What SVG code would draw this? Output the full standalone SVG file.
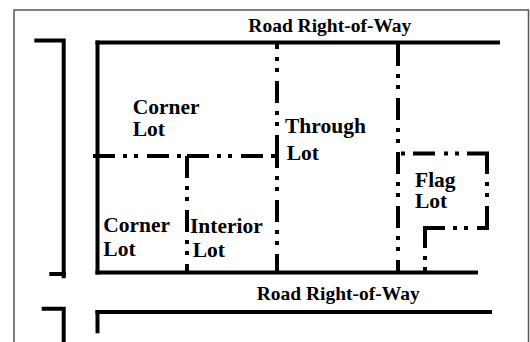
<svg xmlns="http://www.w3.org/2000/svg" width="530" height="342" viewBox="0 0 530 342">
<style>
.solid{stroke:#000;stroke-width:4;fill:none;stroke-linecap:butt}
.dd{stroke:#000;stroke-width:4;fill:none;stroke-linecap:butt;stroke-dasharray:22 8 4 7 4 9}
.lbl{font-family:"Liberation Serif","Times New Roman",serif;font-weight:bold;font-size:21.5px;fill:#000}
.road{font-family:"Liberation Serif","Times New Roman",serif;font-weight:bold;font-size:19.5px;fill:#000}
</style>
<rect x="0" y="0" width="530" height="342" fill="#fff"/>
<path d="M14 343 V10 H528.5 V343" fill="none" stroke="#555" stroke-width="1.5"/>
<g id="streets">
  <path class="solid" d="M34.3 40.5 H63.7 V278.3"/>
  <path class="solid" d="M49.3 274 H65.7"/>
  <path class="solid" d="M41.7 308.7 H63.7 V343"/>
  <path class="solid" d="M95.5 42.5 H500"/>
  <path class="solid" d="M97.5 40.5 V274.5"/>
  <path class="solid" d="M95.5 272.5 H478"/>
  <path class="solid" d="M95.5 312 H492"/>
  <path class="solid" d="M97.5 310 V333.3"/>
</g>
<g id="connectors">
  <line class="dd" x1="277" y1="44" x2="277" y2="157" stroke-dashoffset="17"/>
  <line class="dd" x1="277" y1="157" x2="277" y2="272" stroke-dashoffset="11"/>
  <line class="dd" x1="398" y1="44" x2="398" y2="272"/>
  <line class="dd" x1="93" y1="156" x2="187" y2="156"/>
  <line class="dd" x1="187" y1="156" x2="277" y2="156"/>
  <line class="dd" x1="187" y1="156" x2="187" y2="272"/>
  <line class="dd" x1="489" y1="153.5" x2="398" y2="153.5"/>
  <line class="dd" x1="487" y1="152" x2="487" y2="228"/>
  <line class="dd" x1="423" y1="228" x2="489" y2="228"/>
  <line class="dd" x1="425" y1="226" x2="425" y2="272"/>
</g>
<g id="road-top"><text class="road" x="248.3" y="31.5">Road Right-of-Way</text></g>
<g id="road-bottom"><text class="road" x="256.7" y="300">Road Right-of-Way</text></g>
<g id="corner-lot-top"><text class="lbl" x="132.7" y="113.5">Corner</text><text class="lbl" x="132.7" y="135.5">Lot</text></g>
<g id="corner-lot-bottom"><text class="lbl" x="103.3" y="231.7">Corner</text><text class="lbl" x="103.3" y="256">Lot</text></g>
<g id="interior-lot"><text class="lbl" x="190" y="232.5">Interior</text><text class="lbl" x="192.7" y="256.5">Lot</text></g>
<g id="through-lot"><text class="lbl" x="285" y="133.3">Through</text><text class="lbl" x="286.7" y="160">Lot</text></g>
<g id="flag-lot"><text class="lbl" x="415" y="186.7">Flag</text><text class="lbl" x="415" y="208.3">Lot</text></g>
</svg>
